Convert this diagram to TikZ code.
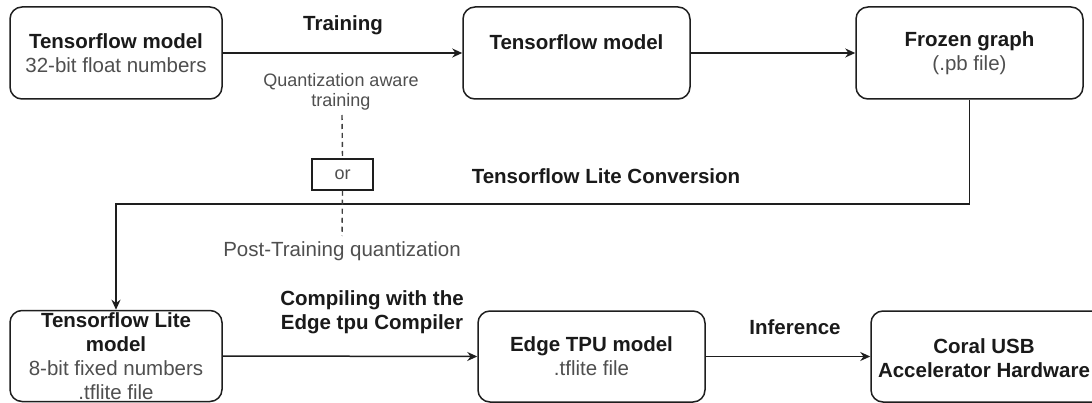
\documentclass[tikz,border=0pt]{standalone}
\usepackage{fontspec}
\setmainfont{Liberation Sans}
\usetikzlibrary{arrows.meta}
\definecolor{txtdark}{HTML}{1A1A1A}
\definecolor{txtgray}{HTML}{4F4F4F}
\definecolor{linecol}{HTML}{1E1E1E}
\newcommand{\boxfont}{\fontsize{20.5}{24}\selectfont}
\newcommand{\gr}[1]{{\color{txtgray}\mdseries #1}}
\begin{document}
\begin{tikzpicture}[x=1pt,y=-1pt,
  box/.style={draw=linecol, line width=1.5pt, rounded corners=12pt,
    minimum width=227pt, minimum height=92pt, align=center, inner sep=0pt,
    font=\boxfont\bfseries, text=txtdark},
  arr/.style={draw=linecol, line width=1.5pt, -{Stealth[length=10pt,width=9pt]}},
  dashline/.style={draw=linecol!85, line width=1.4pt, dash pattern=on 5pt off 4pt},
  lbl/.style={font=\boxfont\bfseries, text=txtdark, align=center, inner sep=0pt},
  plain/.style={font=\boxfont, text=txtgray, align=center, inner sep=0pt},
  small/.style={font=\fontsize{18}{20}\selectfont, text=txtgray, align=center, inner sep=0pt},
  orbox/.style={draw=linecol, line width=1.5pt, minimum width=61pt, minimum height=31pt,
    inner sep=0pt, font=\fontsize{18}{20}\selectfont, text=txtgray}
]
\useasboundingbox (0,0) rectangle (1092,403);
\fill[white] (0,0) rectangle (1092,403);

% boxes
\node[box, minimum width=212pt] (b1) at (116,53) {Tensorflow model\\\gr{32-bit float numbers}};
\node[box] (b2) at (576.5,53) {};
\node[lbl] (b2t) at (576.5,42) {Tensorflow model};
\node[box] (b3) at (969.5,53) {Frozen graph\\\gr{(.pb file)}};
\node[box, minimum width=212pt, minimum height=91pt] (b4) at (116,356)
  {Tensorflow Lite\\model\\\gr{8-bit fixed numbers}\\\gr{.tflite file}};
\node[box, minimum height=91pt] (b5) at (591.5,356.5) {Edge TPU model\\\gr{.tflite file}};
\node[box, minimum width=250pt, minimum height=91pt] (b6) at (996,356.5) {};
\node[lbl] (b6t) at (984,358) {Coral USB\\Accelerator Hardware};

% connectors
\draw[arr] (b1.east) -- (b2.west);
\draw[arr] (b2.east) -- (b3.west);
\coordinate (turn) at (969.5,204);
\draw[arr] (b3.south) -- (turn) -| (b4.north);
\draw[arr] (b4.east) -- (b5.west);
\draw[arr] (b5.east) -- (b6.west);

% labels
\node[lbl] (ltrain) at (343,25) {Training};
\node[small] (lqat) at (341,92) {Quantization aware\\training};
\node[orbox] (orb) at (342.5,174.5) {or};
\coordinate (qtop) at (342,115);
\coordinate (qbot) at (342,236);
\draw[dashline] (qtop) -- (orb.north);
\draw[dashline] (orb.south) -- (qbot);
\node[plain] (lptq) at (342,251) {Post-Training quantization};
\node[lbl] (lconv) at (606,176) {Tensorflow Lite Conversion};
\node[lbl] (lcomp) at (372,312) {Compiling with the\\Edge tpu Compiler};
\node[lbl] (linf) at (795,327) {Inference};
\end{tikzpicture}
\end{document}
